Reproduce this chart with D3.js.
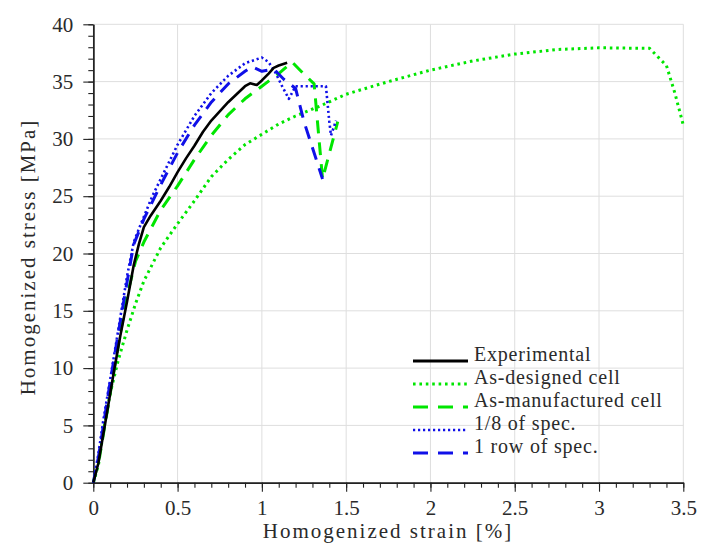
<!DOCTYPE html>
<html><head><meta charset="utf-8">
<script src="https://cdn.jsdelivr.net/npm/d3@7"></script>
</head><body style="margin:0;background:#fff;font-family:'Liberation Serif','Times New Roman',Tinos">
<svg id="c" width="702" height="547" style="font-family:'Liberation Serif','Times New Roman',Tinos"></svg>
<script>
// ---- data (strain %, stress MPa) ----
const experimental = [[0,0],[0.03,1.7],[0.06,4.3],[0.08,6],[0.12,9.5],[0.16,12.8],[0.2,15.8],[0.24,19],[0.27,20.8],[0.3,22.3],[0.34,23.3],[0.4,24.6],[0.45,25.8],[0.5,27.1],[0.55,28.3],[0.6,29.4],[0.65,30.6],[0.7,31.6],[0.75,32.4],[0.8,33.2],[0.85,33.9],[0.9,34.6],[0.93,34.85],[0.97,34.7],[1.0,35.1],[1.04,35.7],[1.07,36.2],[1.1,36.4],[1.15,36.65]];
const asDesigned = [[0,0],[0.03,1.5],[0.06,4.5],[0.1,7.8],[0.15,10.8],[0.2,13.3],[0.25,15.6],[0.3,17.6],[0.4,20.5],[0.5,22.6],[0.6,24.6],[0.7,26.7],[0.8,28.2],[0.9,29.5],[1.0,30.4],[1.1,31.3],[1.2,32],[1.35,32.9],[1.5,33.9],[1.75,35],[2.0,36],[2.25,36.8],[2.5,37.4],[2.75,37.8],[3.0,37.95],[3.3,37.9],[3.4,36.4],[3.45,34],[3.5,31.2]];
const asManufactured = [[0,0],[0.04,2.5],[0.08,6],[0.12,9.5],[0.16,13],[0.2,16.3],[0.25,19.3],[0.3,21],[0.4,23.8],[0.5,25.9],[0.6,28.2],[0.7,30.3],[0.8,32.1],[0.9,33.5],[1.0,34.6],[1.1,35.7],[1.18,36.7],[1.24,35.8],[1.31,34.8],[1.36,26.5],[1.45,31.5]];
const oneEighth = [[0,0],[0.03,2.5],[0.06,5.5],[0.1,9],[0.15,13.5],[0.2,18],[0.24,21],[0.28,22.5],[0.35,25],[0.4,26.5],[0.5,29.5],[0.6,32],[0.7,34],[0.8,35.5],[0.9,36.6],[1.0,37.1],[1.04,36.7],[1.08,35.8],[1.12,34.6],[1.16,33.5],[1.2,34.6],[1.38,34.6],[1.4,31.5],[1.41,30.3],[1.44,31.6]];
const oneRow = [[0,0],[0.03,2.2],[0.06,5],[0.1,8.8],[0.15,13.2],[0.2,17.5],[0.24,20.8],[0.3,23],[0.4,26],[0.5,28.8],[0.6,31.2],[0.7,33.2],[0.8,34.8],[0.9,35.9],[0.94,36.3],[1.0,35.9],[1.07,36.1],[1.13,35.2],[1.2,34.4],[1.25,31.5],[1.36,26.5]];

const xTicks = [0,0.5,1,1.5,2,2.5,3,3.5];
const yTicks = [0,5,10,15,20,25,30,35,40];
const legendLabels = ["Experimental","As-designed cell","As-manufactured cell","1/8 of spec.","1 row of spec."];

const GREEN = "#00e600", BLUE = "#1010e8";
const series = [
  {data: asDesigned,     color: GREEN, width: 3,   dash: "2.6,3.8"},
  {data: asManufactured, color: GREEN, width: 3,   dash: "13,9"},
  {data: oneRow,         color: BLUE,  width: 3,   dash: "13,9"},
  {data: oneEighth,      color: BLUE,  width: 2.6, dash: "2.2,2.8"},
  {data: experimental,   color: "#000", width: 2.6, dash: null}
];
const legendStyles = [series[4], series[0], series[1], series[3], series[2]];

const TXT = "#2a2a2a";
const svg = d3.select("#c");
svg.append("rect").attr("width",702).attr("height",547).attr("fill","#fff");

const x = d3.scaleLinear().domain([0,3.5]).range([93.3,683.3]);
const y = d3.scaleLinear().domain([0,40]).range([482.7,24.3]);

// grid
const g = svg.append("g");
g.selectAll(".vg").data(xTicks).join("line")
  .attr("x1",d=>x(d)).attr("x2",d=>x(d)).attr("y1",y(0)).attr("y2",y(40))
  .attr("stroke","#dedede").attr("stroke-width",1);
g.selectAll(".hg").data(yTicks).join("line")
  .attr("x1",x(0)).attr("x2",x(3.5)).attr("y1",d=>y(d)).attr("y2",d=>y(d))
  .attr("stroke","#dedede").attr("stroke-width",1);

// axes
const fmt = d3.format("~g");
svg.append("g").attr("transform",`translate(0,${y(0)})`)
  .call(d3.axisBottom(x).tickValues(xTicks).tickSize(9).tickSizeOuter(0).tickPadding(8).tickFormat(fmt));
svg.append("g").attr("transform",`translate(0,${y(0)})`)
  .call(d3.axisBottom(x).tickValues(d3.range(0,36).map(i=>i/10)).tickSize(5).tickSizeOuter(0).tickFormat(""));
svg.append("g").attr("transform",`translate(${x(0)},0)`)
  .call(d3.axisLeft(y).tickValues(yTicks).tickSize(10).tickSizeOuter(0).tickPadding(10).tickFormat(fmt));
svg.append("g").attr("transform",`translate(${x(0)},0)`)
  .call(d3.axisLeft(y).tickValues(d3.range(0,41)).tickSize(5).tickSizeOuter(0).tickFormat(""));
svg.selectAll("g").attr("font-family",null);
svg.selectAll(".domain").attr("stroke","#222").attr("stroke-width",1.4);
svg.selectAll(".tick line").attr("stroke","#222").attr("stroke-width",1.1);
svg.selectAll(".tick text").attr("font-size",21).attr("fill",TXT);

// lines
const line = d3.line().x(d=>x(d[0])).y(d=>y(d[1]));
const lg = svg.append("g");
series.forEach(s=>{
  lg.append("path").datum(s.data).attr("d",line)
    .attr("fill","none").attr("stroke",s.color).attr("stroke-width",s.width)
    .attr("stroke-dasharray",s.dash).attr("stroke-linejoin","round");
});

// titles
svg.append("text").attr("x",388).attr("y",538).attr("text-anchor","middle")
  .attr("font-size",21).attr("letter-spacing","2px").attr("fill",TXT)
  .text("Homogenized strain [%]");
svg.append("text").attr("transform","translate(35,257) rotate(-90)").attr("text-anchor","middle")
  .attr("font-size",21).attr("letter-spacing","2px").attr("fill",TXT)
  .text("Homogenized stress [MPa]");

// legend
const leg = svg.append("g");
legendLabels.forEach((lab,i)=>{
  const yy = 361 + i*23;
  const st = legendStyles[i];
  leg.append("line").attr("x1",413).attr("x2",468).attr("y1",yy).attr("y2",yy)
    .attr("stroke",st.color).attr("stroke-width",st.dash? st.width : 3.2)
    .attr("stroke-dasharray",st.dash? (st.dash==="13,9"?"15,10":st.dash):null);
  leg.append("text").attr("x",474).attr("y",yy)
    .attr("font-size",20).attr("letter-spacing","0.8px").attr("fill",TXT)
    .text(lab);
});
</script>
</body></html>
